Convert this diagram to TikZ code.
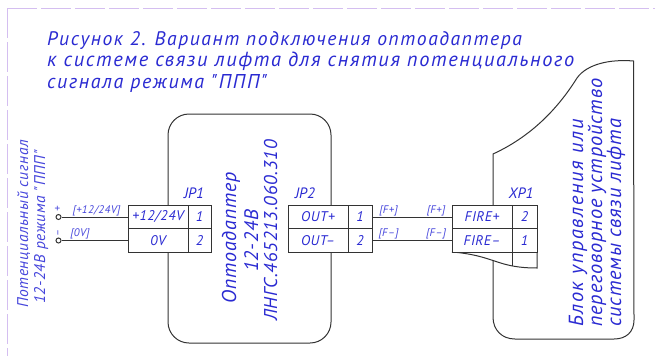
\documentclass[tikz,border=0pt]{standalone}
\usepackage{fontspec}
\setmainfont{PT Sans}
\newfontfamily\widefont[LetterSpace=8]{PT Sans}
\newfontfamily\midfont[LetterSpace=4]{PT Sans}
\newcommand{\fsz}[1]{\fontsize{#1}{#1}\selectfont}
\definecolor{ink}{HTML}{2A2AD2}
\definecolor{softink}{HTML}{4545DC}
\definecolor{wire}{HTML}{333333}
\definecolor{frameline}{HTML}{D4BEF0}
\tikzset{
  x=1pt,y=-1pt,
  frameedge/.style={draw=frameline,line width=1pt,dash pattern=on 30pt off 4pt},
  outline/.style={draw=wire,line width=1pt,fill=white},
  cell/.style={draw=wire,line width=1pt,fill=white,inner sep=0pt,text=ink,font=\itshape\midfont\fsz{14},minimum height=24pt},
  wirepath/.style={draw=wire,line width=1pt},
  term/.style={draw=wire,line width=1pt,circle,minimum size=5pt,inner sep=0pt,fill=white},
  titletext/.style={anchor=base west,inner sep=0pt,text=ink,font=\itshape\widefont},
  bigtext/.style={anchor=base,inner sep=0pt,rotate=90,text=ink,font=\itshape\midfont},
  blocktext/.style={anchor=base west,inner sep=0pt,rotate=90,text=ink,font=\itshape\midfont\fsz{20.4}},
  sidetext/.style={anchor=base,inner sep=0pt,rotate=90,text=softink,font=\itshape\midfont\fsz{15.5}},
  tiny/.style={anchor=base,inner sep=0pt,text=softink,font=\itshape\midfont\fsz{11}},
  jplabel/.style={anchor=base,inner sep=0pt,text=ink,font=\itshape\fsz{15}},
}
\begin{document}
\begin{tikzpicture}
\useasboundingbox (0,0) rectangle (655,356);
\fill[white] (0,0) rectangle (655,356);
% dashed frame
\coordinate (fc) at (7,8);
\coordinate (fr) at (655,8);
\coordinate (fb) at (7,356);
\draw[frameedge] (fc) -- (fr);
\draw[frameedge] (fc) -- (fb);
% title
\node[titletext] (t1) at (47,45) {\fsz{19.6}Рисунок 2. Вариант подключения оптоадаптера};
\node[titletext] (t2) at (47,66) {\fsz{20.4}к системе связи лифта для снятия потенциального};
\node[titletext] (t3) at (47,88) {\fsz{20}сигнала режима "ППП"};
% opto box
\node[draw=wire,line width=1pt,rounded corners=21pt,minimum width=163pt,minimum height=229pt,inner sep=0pt] (opto) at (249.5,228.5) {};
% lift block
\draw[draw=wire,line width=1pt] (493,205) -- (493,154)
  .. controls (530,137) and (557,110) .. (577,78)
  .. controls (587,64) and (610,59) .. (633.5,61)
  -- (634,320) .. controls (634,332) and (626,339) .. (614,339)
  -- (515,339) .. controls (502,339) and (493,330) .. (493,317) -- (493,255);
% XP1 lower tab
\draw[outline] (452,252) .. controls (478,254) and (490,260) .. (504,264) .. controls (515,267) and (525,268) .. (537,268) -- (537,252) -- cycle;
\draw[wirepath] (512,252) -- (512,266);
% tables
\node[cell,minimum width=60pt] (jpa) at (158,217) {+12/24V};
\node[cell,minimum width=23pt] (jpan) at (199.5,217) {1};
\node[cell,minimum width=60pt] (jpb) at (158,240.5) {0V};
\node[cell,minimum width=23pt] (jpbn) at (199.5,240.5) {2};
\node[cell,minimum width=60pt] (oa) at (318,217) {OUT+};
\node[cell,minimum width=24pt] (oan) at (360,217) {1};
\node[cell,minimum width=60pt] (ob) at (318,240.5) {OUT–};
\node[cell,minimum width=24pt] (obn) at (360,240.5) {2};
\node[cell,minimum width=60pt] (xa) at (482,217) {FIRE+};
\node[cell,minimum width=25pt] (xan) at (524.5,217) {2};
\node[cell,minimum width=60pt] (xb) at (482,240.5) {FIRE–};
\node[cell,minimum width=25pt] (xbn) at (524.5,240.5) {1};
\node[jplabel] (jp1) at (194,198) {JP1};
\node[jplabel] (jp2) at (305,198) {JP2};
\node[jplabel] (xp1) at (521,198) {XP1};
% terminals and wires
\node[term] (tp) at (58.5,217) {};
\node[term] (tm) at (58.5,240.5) {};
\draw[wirepath] (tp.east) -- (jpa.west);
\draw[wirepath] (tm.east) -- (jpb.west);
\draw[wirepath] (oan.east) -- (xa.west);
\draw[wirepath] (obn.east) -- (xb.west);
% small labels
\node[tiny,rotate=90] (sp) at (61,209) {+};
\node[tiny,rotate=90] (sm) at (61,233) {–};
\node[tiny] (l1) at (96.5,213) {[+12/24V]};
\node[tiny] (l2) at (80,236) {[0V]};
\node[tiny] (f1) at (388.5,213) {[F+]};
\node[tiny] (f2) at (388.5,236) {[F–]};
\node[tiny] (f3) at (436,213) {[F+]};
\node[tiny] (f4) at (436,236) {[F–]};
% rotated texts
\node[sidetext] (s1) at (28,224) {Потенциальный сигнал};
\node[sidetext] (s2) at (45,227) {12-24В режима "ППП"};
\node[bigtext,font=\itshape\midfont\fsz{20}] (o1) at (236,238) {Оптоадаптер};
\node[bigtext,font=\itshape\midfont\fsz{19.5}] (o2) at (258,241) {12-24В};
\node[bigtext,font=\itshape\midfont\fsz{18.5}] (o3) at (277,230.5) {ЛНГС.465213.060.310};
\node[blocktext,font=\itshape\widefont\fsz{20.4}] (b1) at (583,327) {Блок управления или};
\node[blocktext] (b2) at (602,327) {переговорное устройство};
\node[blocktext] (b3) at (621,327) {системы связи лифта};
\end{tikzpicture}
\end{document}
